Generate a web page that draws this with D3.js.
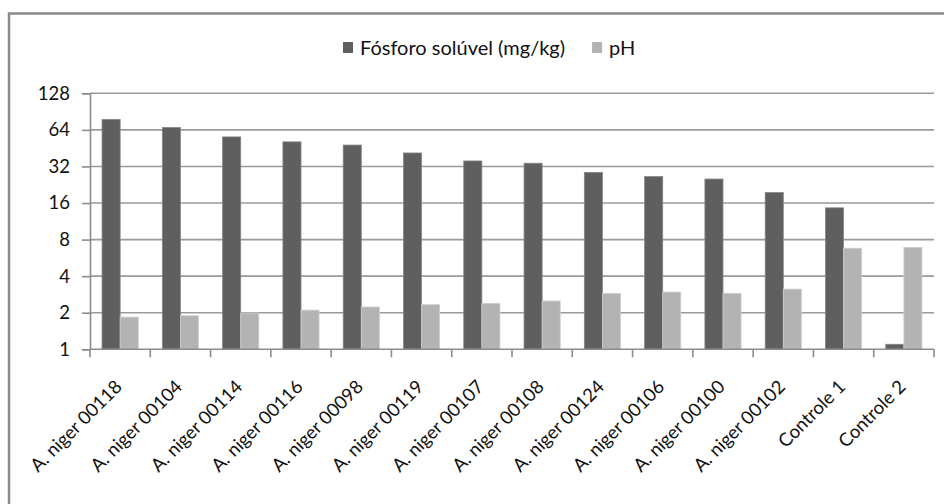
<!DOCTYPE html>
<html>
<head>
<meta charset="utf-8">
<script src="https://cdn.jsdelivr.net/npm/d3@7.9.0/dist/d3.min.js"></script>
<style>
    body { margin: 0; background: #fff; }
    svg text { font-family: Lato, "Open Sans", sans-serif; fill: #111; }
</style>
</head>
<body>
<svg id="chart" width="944" height="504"></svg>
<script>
// data (log2 y axis)
const categories = ["A. niger 00118", "A. niger 00104", "A. niger 00114", "A. niger 00116",
    "A. niger 00098", "A. niger 00119", "A. niger 00107", "A. niger 00108", "A. niger 00124",
    "A. niger 00106", "A. niger 00100", "A. niger 00102", "Controle 1", "Controle 2"];
const fosforo = [78, 67, 56, 51, 48, 41.3, 35.5, 34, 28.6, 26.4, 25.2, 19.5, 14.6, 1.1];
const ph = [1.84, 1.89, 1.99, 2.1, 2.23, 2.33, 2.39, 2.5, 2.89, 2.96, 2.89, 3.13, 6.79, 6.91];
const seriesNames = ["Fósforo solúvel (mg/kg)", "pH"];
const yTicks = [1, 2, 4, 8, 16, 32, 64, 128];

const colors = ["#5f5f5f", "#b3b3b3"];
const edges = ["#858585", "#cfcfcf"];

const svg = d3.select("#chart");
const plot = { left: 90, right: 934, top: 93.3, bottom: 349.3 };

// outer frame (runs off the right and bottom of the picture)
svg.append("rect")
    .attr("x", 9).attr("y", 13.5)
    .attr("width", 960).attr("height", 520)
    .attr("fill", "none")
    .attr("stroke", "#8a8a8a")
    .attr("stroke-width", 2.5);

const x = d3.scaleBand().domain(categories).range([plot.left, plot.right]);
const bw = x.bandwidth();
const x1 = d3.scaleBand().domain(seriesNames).range([bw * 0.2, bw * 0.8]);
const y = d3.scaleLog().base(2).domain([1, 128]).range([plot.bottom, plot.top]);

// gridlines
svg.append("g")
    .selectAll("line")
    .data(yTicks.slice(1))
    .enter()
    .append("line")
    .attr("x1", plot.left).attr("x2", plot.right)
    .attr("y1", d => y(d)).attr("y2", d => y(d))
    .attr("stroke", "#9a9a9a")
    .attr("stroke-width", 1.6);

// bars
const rows = categories.map((c, i) => ({ cat: c, values: [fosforo[i], ph[i]] }));
const groups = svg.append("g")
    .selectAll("g")
    .data(rows)
    .enter()
    .append("g")
    .attr("transform", d => `translate(${x(d.cat)},0)`);

groups.selectAll("rect")
    .data(d => d.values.map((v, k) => ({ key: seriesNames[k], k: k, v: v })))
    .enter()
    .append("rect")
    .attr("x", d => x1(d.key))
    .attr("width", x1.bandwidth())
    .attr("y", d => y(d.v))
    .attr("height", d => plot.bottom - y(d.v))
    .attr("fill", d => colors[d.k])
    .attr("stroke", d => edges[d.k])
    .attr("stroke-width", 0.8);

// y axis
const yAxis = svg.append("g")
    .attr("transform", `translate(${plot.left},0)`)
    .call(d3.axisLeft(y).tickValues(yTicks).tickFormat(d3.format("d")).tickSize(8).tickPadding(12));
yAxis.select(".domain").attr("stroke", "#8c8c8c").attr("stroke-width", 1.6);
yAxis.selectAll(".tick line").attr("stroke", "#8c8c8c").attr("stroke-width", 1.6);
yAxis.selectAll(".tick text")
    .attr("font-size", "18.5px")
    .attr("fill", "#111")
    .style("font-family", "Lato, sans-serif");

// x axis: line plus ticks on category boundaries
svg.append("line")
    .attr("x1", plot.left).attr("x2", plot.right)
    .attr("y1", plot.bottom).attr("y2", plot.bottom)
    .attr("stroke", "#8c8c8c").attr("stroke-width", 1.6);

const bounds = categories.map(c => x(c)).concat([plot.right]);
svg.append("g")
    .selectAll("line")
    .data(bounds)
    .enter()
    .append("line")
    .attr("x1", d => d).attr("x2", d => d)
    .attr("y1", plot.bottom).attr("y2", plot.bottom + 8)
    .attr("stroke", "#8c8c8c").attr("stroke-width", 1.6);

svg.append("g")
    .selectAll("text")
    .data(categories)
    .enter()
    .append("text")
    .attr("transform", d => `translate(${x(d) + bw / 2 + 3},388) rotate(-45)`)
    .attr("text-anchor", "end")
    .attr("font-size", "18.5px")
    .text(d => d);

// legend
const legend = svg.append("g").attr("transform", "translate(343,0)");
let lx = 0;
seriesNames.forEach((name, i) => {
    legend.append("rect")
        .attr("x", lx).attr("y", 42)
        .attr("width", 10).attr("height", 11)
        .attr("fill", colors[i]);
    const t = legend.append("text")
        .attr("x", lx + 17).attr("y", 55)
        .attr("font-size", "20px")
        .text(name);
    lx += 17 + t.node().getComputedTextLength() + 27;
});
</script>
</body>
</html>
